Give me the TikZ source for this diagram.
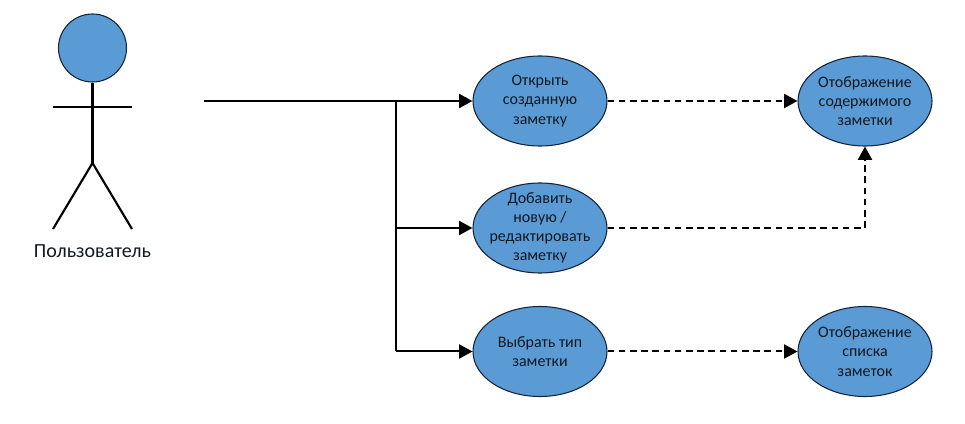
\documentclass[tikz,border=0pt]{standalone}
\usepackage{fontspec}
\setmainfont{Carlito}
\usetikzlibrary{arrows.meta,calc,shapes.geometric}
\definecolor{ucfill}{HTML}{5B9BD5}
\definecolor{ucline}{HTML}{14233A}
\definecolor{uctext}{HTML}{101820}
\tikzset{
  usecase/.style={ellipse,draw=ucline,fill=ucfill,line width=0.8pt,minimum width=100.5pt,minimum height=67.5pt,inner sep=-14pt,align=center,text=uctext,font=\fontsize{12}{14.4}\selectfont,execute at begin node={\vspace*{2.6pt}}},
  solidarrow/.style={draw=black,line width=1.5pt,-{Triangle[length=10pt,width=10.5pt]}},
  dasharrow/.style={draw=black,line width=1.5pt,dash pattern=on 5pt off 3.4pt,-{Triangle[length=10pt,width=10.5pt]}},
  trunk/.style={draw=black,line width=1.5pt},
  armline/.style={draw=black,line width=1.9pt},
  limb/.style={draw=black,line width=1.6pt},
  spine/.style={draw=black,line width=2.6pt},
}
\begin{document}
\begin{tikzpicture}[x=0.75pt,y=-0.75pt]
\useasboundingbox (0,0) rectangle (965,424);
\node[circle,draw=ucline,fill=ucfill,line width=0.8pt,minimum size=51pt,inner sep=0pt] (head) at (92.5,48) {};
\coordinate (hip) at (92.5,163);
\coordinate (armL) at (53,107);
\coordinate (armR) at (132,107);
\coordinate (legL) at (53,229);
\coordinate (legR) at (132,229);
\draw[spine] (head.south) -- (hip);
\draw[armline] (armL) -- (armR);
\draw[limb] (legL) -- (hip) -- (legR);
\node[font=\fontsize{15}{17}\selectfont,text=uctext] (user) at (92.5,251) {Пользователь};

\node[usecase] (open) at (540,101) {Открыть\\созданную\\заметку};
\node[usecase] (add) at (540,228) {Добавить\\новую /\\редактировать\\заметку};
\node[usecase] (type) at (540,351.5) {Выбрать тип\\заметки};
\node[usecase] (showc) at (865,101) {Отображение\\содержимого\\заметки};
\node[usecase] (showl) at (865,351.5) {Отображение\\списка\\заметок};

\coordinate (start) at (204,101);
\coordinate (j1) at (396,101);
\coordinate (j2) at (396,228);
\coordinate (j3) at (396,351.5);
\draw[solidarrow] (start) -- (open.west);
\draw[trunk] (j1) -- (j3);
\draw[solidarrow] (j2) -- (add.west);
\draw[solidarrow] (j3) -- (type.west);
\draw[dasharrow] (open.east) -- (showc.west);
\draw[dasharrow] (add.east) -| (showc.south);
\draw[dasharrow] (type.east) -- (showl.west);
\end{tikzpicture}
\end{document}
